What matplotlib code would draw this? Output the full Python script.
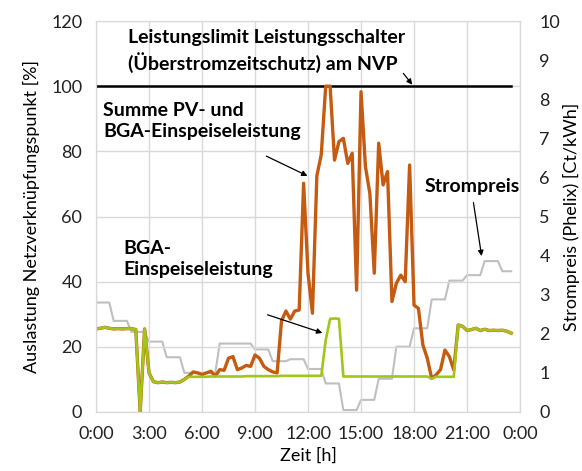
import numpy as np
import matplotlib
matplotlib.use("Agg")
import matplotlib.pyplot as plt

plt.rcParams.update({
    "font.family": ["Lato", "DejaVu Sans"],
    "font.size": 13,
})

# ── data: quarter-hour values, 0:00 .. 23:30 ─────────────────────────────────
time_h = np.arange(95) * 0.25

# BGA feed-in, % of grid connection point capacity
bga = [
    25.5, 25.7, 26.0, 25.7, 25.5, 25.6, 25.5, 25.6, 25.6, 25.3,
    0.0, 25.5, 12.0, 9.3, 9.0, 9.2, 9.0, 9.1, 9.0, 9.2,
    10.0, 10.8, 10.8, 10.8, 10.8, 10.8, 10.9, 10.9, 10.9, 10.9,
    10.9, 10.9, 10.9, 10.9, 11.0, 11.0, 11.0, 11.0, 11.0, 11.0,
    11.0, 11.0, 11.1, 11.1, 11.1, 11.1, 11.1, 11.1, 11.1, 11.1,
    11.1, 11.1, 22.0, 28.6, 28.7, 28.6, 10.9, 10.9, 10.9, 10.9,
    10.9, 10.9, 10.9, 10.9, 10.9, 10.9, 10.9, 10.9, 10.9, 10.9,
    10.9, 10.9, 10.9, 10.9, 10.9, 10.9, 10.2, 10.8, 10.8, 10.8,
    10.8, 10.8, 26.7, 26.3, 25.0, 25.3, 25.7, 25.0, 25.4, 25.0,
    25.1, 25.0, 25.1, 24.8, 24.2,
]

# PV + BGA feed-in, % of grid connection point capacity
total = [
    25.5, 25.7, 26.0, 25.7, 25.5, 25.6, 25.5, 25.6, 25.6, 25.3,
    0.0, 25.5, 12.0, 9.3, 9.0, 9.2, 9.0, 9.1, 9.0, 9.2,
    10.0, 11.0, 12.3, 12.0, 11.5, 12.0, 12.5, 11.0, 13.0, 12.8,
    16.5, 17.0, 13.0, 13.5, 14.3, 14.0, 17.5, 16.5, 14.0, 13.0,
    12.3, 12.0, 28.0, 31.0, 28.5, 31.0, 31.3, 70.2, 42.5, 30.3,
    72.5, 79.0, 100.0, 100.0, 77.3, 83.0, 84.0, 76.3, 79.4, 37.4,
    98.3, 75.3, 67.1, 42.6, 82.5, 69.7, 73.8, 33.9, 39.5, 42.0,
    40.0, 75.8, 32.8, 31.8, 20.6, 16.5, 10.3, 11.4, 13.0, 19.0,
    17.0, 12.9, 26.7, 26.3, 25.0, 25.3, 25.7, 25.0, 25.4, 25.0,
    25.1, 25.0, 25.1, 24.8, 24.2,
]

# Phelix day-ahead price per hour, ct/kWh
price_hourly = [
    2.80, 2.33, 2.05, 1.80, 1.40, 1.00, 1.00, 1.75, 1.75, 1.60,
    1.30, 1.35, 1.10, 0.73, 0.05, 0.31, 0.85, 1.67, 2.14, 2.88,
    3.36, 3.50, 3.86, 3.60,
]
price = np.repeat(price_hourly, 4)[:len(time_h)]

limit = np.full(len(time_h), 100.0)   # breaker limit at the NVP

xticks = np.arange(0, 25, 3)
xticklabels = ["0:00", "3:00", "6:00", "9:00", "12:00", "15:00", "18:00", "21:00", "0:00"]

# ── colours ──────────────────────────────────────────────────────────────────
C_TOTAL = "#C55A11"
C_BGA = "#A2C617"
C_PRICE = "#BFBFBF"
C_GRID = "#D9D9D9"

fig = plt.figure(figsize=(5.82, 4.71), dpi=100)
ax = fig.add_axes([0.165, 0.1253, 0.7285, 0.830])
ax2 = ax.twinx()

# price sits behind the load curves
ax.set_zorder(ax2.get_zorder() + 1)
ax.patch.set_visible(False)

ax2.plot(time_h, price, color=C_PRICE, lw=1.5)
ax.plot(time_h, limit, color="black", lw=1.8)
ax.plot(time_h, total, color=C_TOTAL, lw=2.4)
ax.plot(time_h, bga, color=C_BGA, lw=1.9)

ax.set_xlim(0, 24)
ax.set_ylim(0, 120)
ax2.set_ylim(0, 10)
ax.set_xticks(xticks)
ax.set_xticklabels(xticklabels)
ax.set_yticks(np.arange(0, 121, 20))
ax2.set_yticks(np.arange(0, 11, 1))

ax.grid(True, color=C_GRID, lw=1)
ax.set_axisbelow(True)
for a in (ax, ax2):
    for sp in a.spines.values():
        sp.set_color(C_GRID)
    a.tick_params(length=0, labelsize=13, colors="#222222")
ax.tick_params(axis="y", pad=10)
ax.tick_params(axis="x", pad=10)
ax2.tick_params(axis="y", pad=14)

ax.set_xlabel("Zeit [h]", fontsize=13, labelpad=4)
ax.set_ylabel("Auslastung Netzverknüpfungspunkt [%]", fontsize=13, labelpad=8)
ax2.set_ylabel("Strompreis (Phelix) [Ct/kWh]", fontsize=13, labelpad=2)

# ── annotations ──────────────────────────────────────────────────────────────
bold = dict(fontsize=14, fontweight="bold", ha="left", va="center", linespacing=1.3)
arrow = dict(arrowstyle="-|>", color="black", lw=0.9, mutation_scale=8)

ax.text(1.8, 110.8, "Leistungslimit Leistungsschalter\n(Überstromzeitschutz) am NVP", **bold)
ax.annotate("", xy=(18.0, 99.8), xytext=(17.3, 104.6), arrowprops=arrow)

ax.text(0.4, 89.2, "Summe PV- und\nBGA-Einspeiseleistung", **bold)
ax.annotate("", xy=(12.11, 72.1), xytext=(9.5, 78.9), arrowprops=arrow)

ax.text(18.62, 69.1, "Strompreis", **bold)
ax.annotate("", xy=(21.85, 47.0), xytext=(21.34, 65.1), arrowprops=arrow)

ax.text(1.53, 47.0, "BGA-\nEinspeiseleistung", **bold)
ax.annotate("", xy=(12.96, 24.0), xytext=(9.56, 30.1), arrowprops=arrow)

fig.savefig("out.png", dpi=100)
